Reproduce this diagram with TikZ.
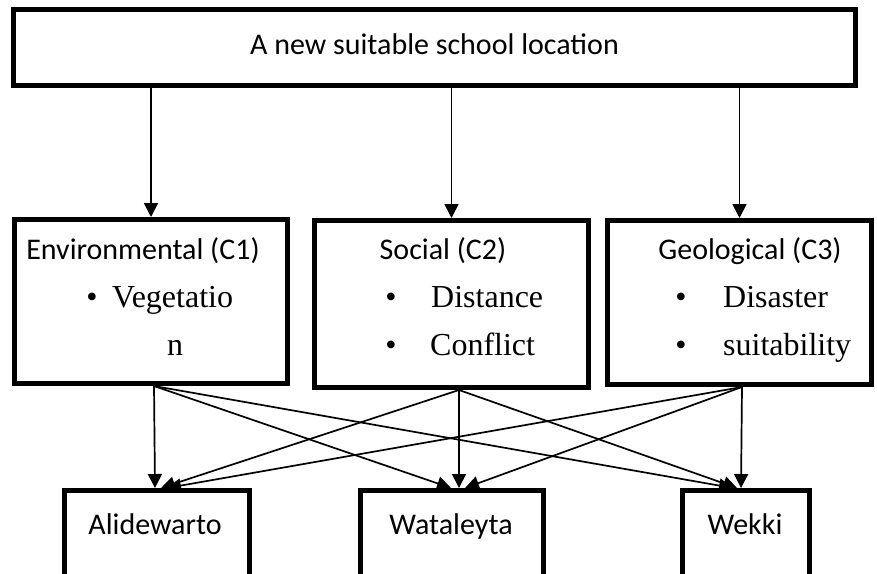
\documentclass[tikz,border=0pt]{standalone}
\usepackage{fontspec}
\setmainfont{Carlito}
\newfontfamily\itemserif{Liberation Serif}
\usetikzlibrary{arrows.meta,calc}
\begin{document}
\begin{tikzpicture}[x=1pt,y=-1pt,
  box/.style={draw, line width=5pt, rectangle, inner sep=0pt},
  lab/.style={font=\fontsize{30}{36}\selectfont, inner sep=0pt, anchor=base},
  item/.style={font=\itemserif\fontsize{32}{38}\selectfont, inner sep=0pt, anchor=base west},
  bul/.style={font=\itemserif\fontsize{32}{38}\selectfont, inner sep=0pt, anchor=base},
  arr/.style={line width=1.7pt, -{Triangle[length=14pt,width=14pt]}}]
\useasboundingbox (0,0) rectangle (877,573);
\clip (0,0) rectangle (877,573);
\fill[white] (0,0) rectangle (877,573);

% top box
\node[box, minimum width=842pt, minimum height=76pt] (top) at (434.5,47.5) {};
\node[lab] (toptext) at (434.5,54) {A new suitable school location};

% criteria boxes
\node[box, minimum width=273pt, minimum height=164pt] (env) at (151,301.5) {};
\node[box, minimum width=274pt, minimum height=167pt] (soc) at (451.5,304) {};
\node[box, minimum width=264pt, minimum height=164pt] (geo) at (739.5,302.5) {};

\node[lab] (envt) at (143,259) {Environmental (C1)};
\node[bul] (envb) at (92,307) {•};
\node[item] (env1) at (112,307) {Vegetatio};
\node[bul] (env2) at (175,355) {n};

\node[lab] (soct) at (443,259) {Social (C2)};
\node[bul] (socb1) at (391,307) {•};
\node[item] (soc1) at (431,307) {Distance};
\node[bul] (socb2) at (391,355) {•};
\node[item] (soc2) at (430,355) {Conflict};

\node[lab] (geot) at (750,259) {Geological (C3)};
\node[bul] (geob1) at (681,307) {•};
\node[item] (geo1) at (723,307) {Disaster};
\node[bul] (geob2) at (681,355) {•};
\node[item] (geo2) at (723,355) {suitability};

% alternatives (bottom edges run off the page)
\node[box, minimum width=185pt, minimum height=109.5pt] (ali) at (157,545.25) {};
\node[box, minimum width=183pt, minimum height=109.5pt] (wat) at (452,545.25) {};
\node[box, minimum width=127pt, minimum height=109.5pt] (wek) at (746,545.25) {};
\node[lab] (alit) at (155,534) {Alidewarto};
\node[lab] (watt) at (451,534) {Wataleyta};
\node[lab] (wekt) at (745,534) {Wekki};

% arrows from goal to criteria
\draw[arr] (top.south -| env.north) -- (env.north);
\draw[arr] (top.south -| soc.north) -- (soc.north);
\draw[arr] (top.south -| geo.north) -- (geo.north);

% origins and targets
\coordinate (eo) at ($(env.south)+(3,0)$);
\coordinate (so) at ($(soc.south)+(7.5,0)$);
\coordinate (go) at ($(geo.south)+(2.5,0)$);
\coordinate (a1) at ($(ali.north)+(-2,0)$);
\coordinate (a2) at ($(ali.north)+(4,0)$);
\coordinate (a3) at ($(ali.north)+(10,0)$);
\coordinate (w1) at ($(wat.north)+(-1,0)$);
\coordinate (w2) at ($(wat.north)+(7,0)$);
\coordinate (w3) at ($(wat.north)+(13,0)$);
\coordinate (k1) at ($(wek.north)+(-13,0)$);
\coordinate (k2) at ($(wek.north)+(-9,0)$);
\coordinate (k3) at ($(wek.north)+(-5,0)$);

\draw[arr] (eo) -- (a1);
\draw[arr] (eo) -- (w1);
\draw[arr] (eo) -- (k1);
\draw[arr] (so) -- (a2);
\draw[arr] (so) -- (w2);
\draw[arr] (so) -- (k2);
\draw[arr] (go) -- (a3);
\draw[arr] (go) -- (w3);
\draw[arr] (go) -- (k3);
\end{tikzpicture}
\end{document}
